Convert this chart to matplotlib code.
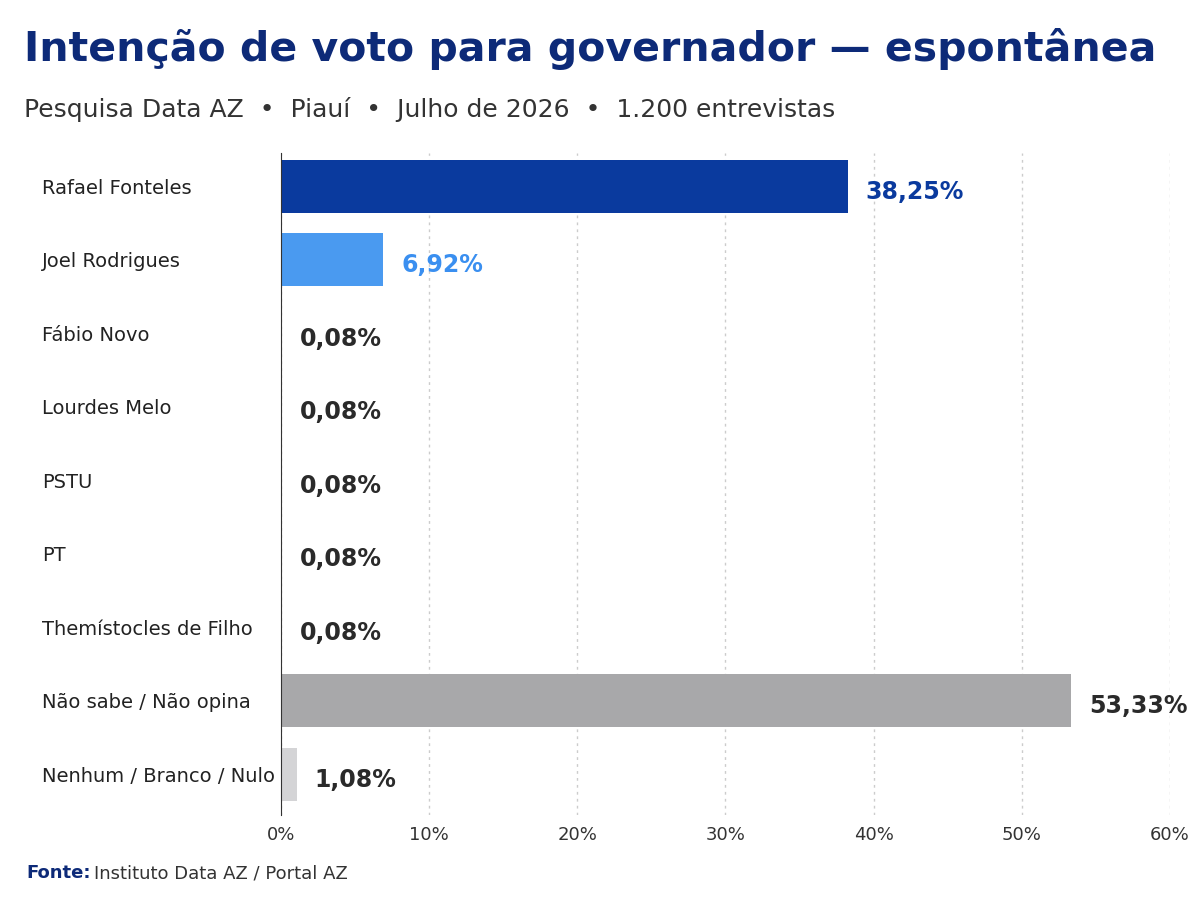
import matplotlib
matplotlib.use('Agg')
import matplotlib.pyplot as plt

plt.rcParams['font.family'] = ['DejaVu Sans']

names = ['Rafael Fonteles', 'Joel Rodrigues', 'Fábio Novo', 'Lourdes Melo', 'PSTU',
         'PT', 'Themístocles de Filho', 'Não sabe / Não opina', 'Nenhum / Branco / Nulo']
values = [38.25, 6.92, 0.08, 0.08, 0.08, 0.08, 0.08, 53.33, 1.08]
labels = ['38,25%', '6,92%', '0,08%', '0,08%', '0,08%', '0,08%', '0,08%', '53,33%', '1,08%']
colors = ['#0a3a9e', '#4a9af0', '#c4dcf7', '#c4dcf7', '#c4dcf7', '#c4dcf7', '#c4dcf7',
          '#a8a8aa', '#d4d4d6']
label_colors = ['#0a3a9e', '#3a8ff0', '#2a2a2a', '#2a2a2a', '#2a2a2a', '#2a2a2a',
                '#2a2a2a', '#2a2a2a', '#2a2a2a']

fig = plt.figure(figsize=(12, 9), dpi=100)
ax = fig.add_axes([0.234, 0.095, 0.741, 0.735])

y = range(len(names))
ax.barh(y, values, height=0.72, color=colors, zorder=2)
for i, v in enumerate(values):
    ax.text(v + 1.2, i + 0.08, labels[i], va='center', ha='left', fontsize=17,
            fontweight='bold', color=label_colors[i])

ax.set_ylim(len(names) - 0.45, -0.45)
ax.set_xlim(0, 60)
ax.set_xticks(range(0, 61, 10))
ax.set_xticklabels([f'{t}%' for t in range(0, 61, 10)], fontsize=13, color='#333333')
ax.set_yticks(list(y))
ax.set_yticklabels(names, fontsize=14, color='#222222')
for t in ax.get_yticklabels():
    t.set_horizontalalignment('left')
ax.tick_params(axis='y', length=0, pad=172)
ax.tick_params(axis='x', length=0, pad=8)
ax.grid(axis='x', color='#cccccc', linestyle=(0, (2, 3)), linewidth=1, zorder=0)
for s in ['top', 'right', 'bottom']:
    ax.spines[s].set_visible(False)
ax.spines['left'].set_color('#333333')

fig.text(0.02, 0.945, 'Intenção de voto para governador — espontânea', fontsize=29.5,
         fontweight='bold', color='#0d2a78', va='center')
fig.text(0.02, 0.878, 'Pesquisa Data AZ  •  Piauí  •  Julho de 2026  •  1.200 entrevistas',
         fontsize=18, color='#333333', va='center')
fig.text(0.022, 0.03, 'Fonte:', fontsize=13, fontweight='bold', color='#0d2a78', va='center')
fig.text(0.078, 0.03, 'Instituto Data AZ / Portal AZ', fontsize=13, color='#333333', va='center')

fig.savefig('out.png')
